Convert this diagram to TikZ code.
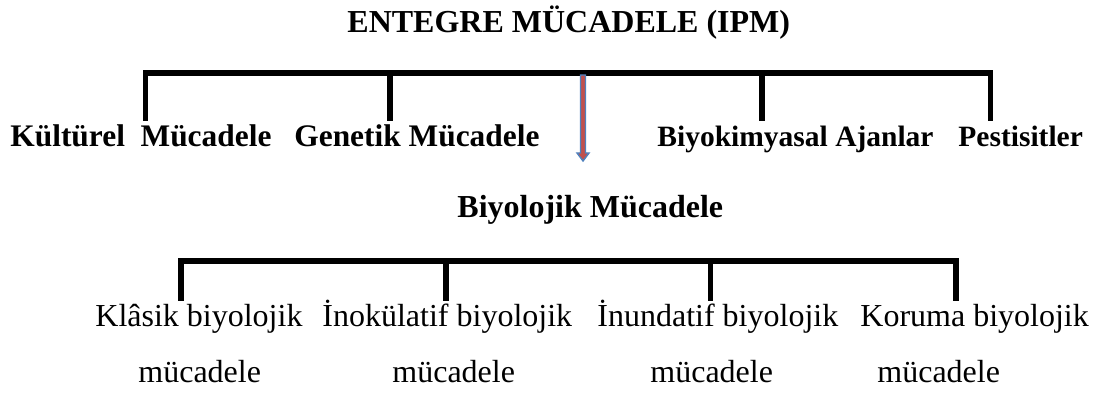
\documentclass[tikz,border=0pt]{standalone}
\usepackage{fontspec}
\setmainfont{Liberation Serif}
\definecolor{arrowfill}{RGB}{192,80,77}
\definecolor{arrowline}{RGB}{79,129,189}
\begin{document}
\begin{tikzpicture}[x=0.5pt,y=-0.5pt,
  every node/.style={inner sep=0pt, anchor=base west},
  titletext/.style={font=\fontsize{16}{19}\selectfont\bfseries},
  branchtext/.style={font=\fontsize{14.75}{18}\selectfont\bfseries},
  widebranch/.style={font=\fontsize{15.7}{18}\selectfont\bfseries},
  subtext/.style={font=\fontsize{16}{19}\selectfont\bfseries},
  leaftext/.style={font=\fontsize{16}{19}\selectfont},
  bracket/.style={line width=2.6pt, line join=miter},
  blockarrow/.style={fill=arrowfill, draw=arrowline, line width=0.7pt, line join=miter}]
\useasboundingbox (0,0) rectangle (1106,394);

% heading
\node[titletext] (ipm) at (347,33) {ENTEGRE MÜCADELE (IPM)};

% first level
\node[widebranch] (kultur) at (10,147) {Kültürel\hspace{0.5em}Mücadele};
\node[widebranch] (genetik) at (294,147) {Genetik Mücadele};
\node[branchtext] (biyokim) at (657,147) {Biyokimyasal Ajanlar};
\node[branchtext] (pest) at (958,147) {Pestisitler};
\node[subtext] (biyo) at (457,218) {Biyolojik Mücadele};

% upper bracket
\coordinate (u1) at (145.5,121);
\coordinate (u2) at (390,121);
\coordinate (u3) at (762,121);
\coordinate (u4) at (990.5,121);
\coordinate (ubar) at (0,73);
\draw[bracket] (u1) |- (ubar -| u4) -- (u4);
\draw[bracket] (u2) -- (u2 |- ubar);
\draw[bracket] (u3) -- (u3 |- ubar);

% block arrow down to the biological branch
\coordinate (atop) at (583,75);
\coordinate (atip) at (583,161);
\draw[blockarrow] (atop) +(-2.5,0) -- +(2.5,0)
  -- ([shift={(2.5,-8)}]atip) -- ([shift={(6,-8)}]atip) -- (atip)
  -- ([shift={(-6,-8)}]atip) -- ([shift={(-2.5,-8)}]atip) -- cycle;

% second level
\node[leaftext] (klasik) at (95,327) {Klâsik biyolojik};
\node[leaftext] (klasik2) at (138,383) {mücadele};
\node[leaftext] (inok) at (322,327) {İnokülatif biyolojik};
\node[leaftext] (inok2) at (392,383) {mücadele};
\node[leaftext] (inun) at (597,327) {İnundatif biyolojik};
\node[leaftext] (inun2) at (650,383) {mücadele};
\node[leaftext] (koruma) at (860,327) {Koruma biyolojik};
\node[leaftext] (koruma2) at (877,383) {mücadele};

% lower bracket
\coordinate (l1) at (181,301);
\coordinate (l2) at (446,301);
\coordinate (l3) at (710.5,301);
\coordinate (l4) at (956,301);
\coordinate (lbar) at (0,261);
\draw[bracket] (l1) |- (lbar -| l4) -- (l4);
\draw[bracket] (l2) -- (l2 |- lbar);
\draw[bracket] (l3) -- (l3 |- lbar);
\end{tikzpicture}
\end{document}
